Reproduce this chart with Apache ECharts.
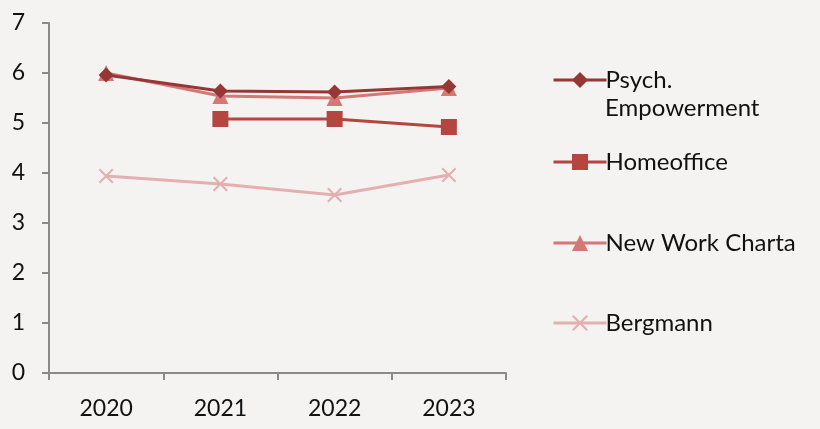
<!DOCTYPE html>
<html><head><meta charset="utf-8">
<script src="https://cdn.jsdelivr.net/npm/echarts@6/dist/echarts.min.js"></script>
<style>html,body{margin:0;padding:0;background:#f4f3f2;}#c{width:820px;height:429px;}</style>
</head><body><div id="c"></div>
<script>
const years = ['2020', '2021', '2022', '2023'];
const psych = [5.96, 5.64, 5.62, 5.73];
const homeoffice = [null, 5.08, 5.08, 4.92];
const newWork = [6.0, 5.54, 5.5, 5.7];
const bergmann = [3.94, 3.78, 3.56, 3.96];
const yTicks = [0, 1, 2, 3, 4, 5, 6, 7];
const names = ['Psych. Empowerment', 'Homeoffice', 'New Work Charta', 'Bergmann'];

const colors = ['#953735', '#b5453f', '#d47876', '#e4b0af'];
const crossPath = 'path://M0,1L1,0L10,9L9,10Z M9,0L10,1L1,10L0,9Z';
const font = 'Lato, Open Sans, sans-serif';

const chart = echarts.init(document.getElementById('c'));
function legend(name, top, fmt) {
  return {
    data: [name], left: 547, top: top, itemWidth: 53, itemHeight: 20, itemGap: 0,
    lineStyle: {width: 3},
    textStyle: {fontSize: 24, color: '#111', fontFamily: font, padding: [0, 0, 0, -6]},
    formatter: fmt || '{name}', selectedMode: false
  };
}
chart.setOption({
  backgroundColor: '#f4f3f2',
  animation: false,
  grid: {left: 49, right: 314, top: 23, bottom: 56},
  legend: [
    legend(names[0], 63, function () { return 'Psych.'; }),
    legend(names[1], 145),
    legend(names[2], 226),
    legend(names[3], 306)
  ],
  graphic: [{type: 'text', left: 605, top: 96, style: {text: 'Empowerment', fontSize: 24, fill: '#111', fontFamily: font}}],
  xAxis: {
    type: 'category', data: years, boundaryGap: true,
    axisLine: {lineStyle: {color: '#8a8a8a', width: 2}},
    axisTick: {show: true, length: 7, lineStyle: {color: '#8a8a8a', width: 2}},
    axisLabel: {fontSize: 23, color: '#111', fontFamily: font, margin: 24}
  },
  yAxis: {
    type: 'value', min: yTicks[0], max: yTicks[yTicks.length - 1], interval: 1,
    splitLine: {show: false},
    axisLine: {show: true, lineStyle: {color: '#8a8a8a', width: 2}},
    axisTick: {show: true, length: 7, lineStyle: {color: '#8a8a8a', width: 2}},
    axisLabel: {fontSize: 23, color: '#111', fontFamily: font, margin: 24}
  },
  series: [
    {name: names[0], type: 'line', data: psych, symbol: 'diamond', symbolSize: 15,
      lineStyle: {color: colors[0], width: 3}, itemStyle: {color: colors[0]}, z: 4},
    {name: names[1], type: 'line', data: homeoffice, symbol: 'rect', symbolSize: 16,
      lineStyle: {color: colors[1], width: 3}, itemStyle: {color: colors[1]}, z: 3},
    {name: names[2], type: 'line', data: newWork, symbol: 'triangle', symbolSize: 16,
      lineStyle: {color: colors[2], width: 3}, itemStyle: {color: colors[2]}, z: 3},
    {name: names[3], type: 'line', data: bergmann, symbol: crossPath, symbolSize: 15,
      lineStyle: {color: colors[3], width: 3}, itemStyle: {color: colors[3]}, z: 2}
  ]
});
</script></body></html>
